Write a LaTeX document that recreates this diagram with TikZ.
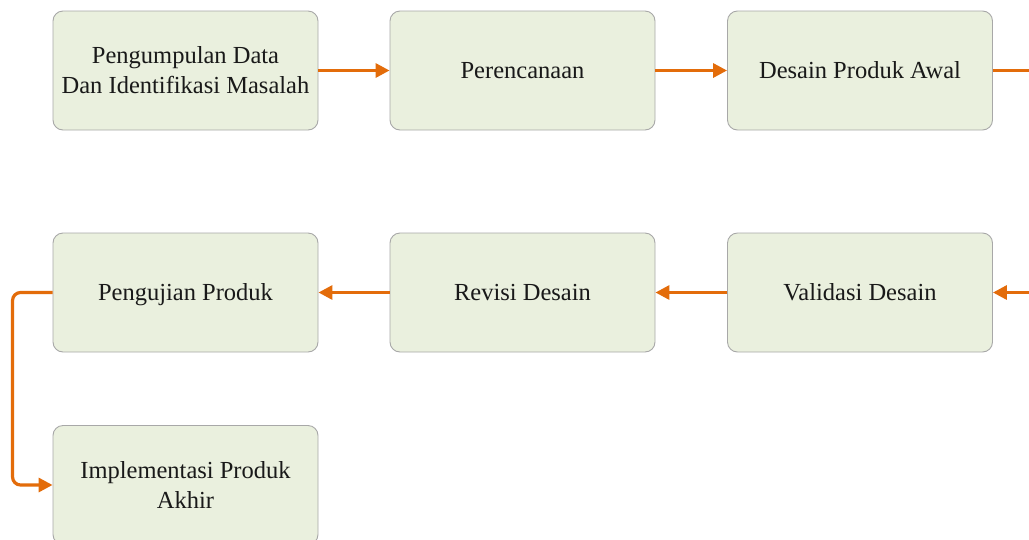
\documentclass[tikz,border=0pt]{standalone}
\usepackage{fontspec}
\setmainfont{Liberation Serif}
\usetikzlibrary{arrows.meta,positioning}
\definecolor{boxfill}{HTML}{EAF0DE}
\definecolor{boxline}{HTML}{A8A8A8}
\definecolor{arr}{HTML}{E36C0A}
\tikzset{
  stepbox/.style={draw=boxline, line width=0.9pt, fill=boxfill, rounded corners=10pt,
    minimum width=265pt, minimum height=119pt, inner sep=0pt, align=center,
    font=\fontsize{24.5pt}{30pt}\selectfont, text=black!90},
  oneline/.style={text height=16.5pt, text depth=0.5pt},
  flow/.style={draw=arr, line width=3.2pt, -{Triangle[length=14pt,width=14pt]}},
}
\begin{document}
\begin{tikzpicture}[x=1pt,y=-1pt]
\clip (0,0) rectangle (1029,539);
\fill[white] (0,0) rectangle (1029,539);
\node[stepbox] (a) at (185.5,70.5) {Pengumpulan Data\\Dan Identifikasi Masalah};
\node[stepbox, oneline] (b) at (522.5,70.5) {Perencanaan};
\node[stepbox, oneline] (c) at (860,70.5) {Desain Produk Awal};
\node[stepbox, oneline] (d) at (860,292.5) {Validasi Desain};
\node[stepbox, oneline] (e) at (522.5,292.5) {Revisi Desain};
\node[stepbox, oneline] (f) at (185.5,292.5) {Pengujian Produk};
\node[stepbox] (g) at (185.5,485) {Implementasi Produk\\Akhir};
\coordinate (cout) at (1040,70.5);
\coordinate (din) at (1040,292.5);
\draw[flow] (a.east) -- (b.west);
\draw[flow] (b.east) -- (c.west);
\draw[draw=arr, line width=3.2pt] (c.east) -- (cout);
\draw[flow] (din) -- (d.east);
\draw[flow] (d.west) -- (e.east);
\draw[flow] (e.west) -- (f.east);
\draw[flow, rounded corners=8pt] (f.west) -- ++(-40,0) |- (g.west);
\end{tikzpicture}
\end{document}
